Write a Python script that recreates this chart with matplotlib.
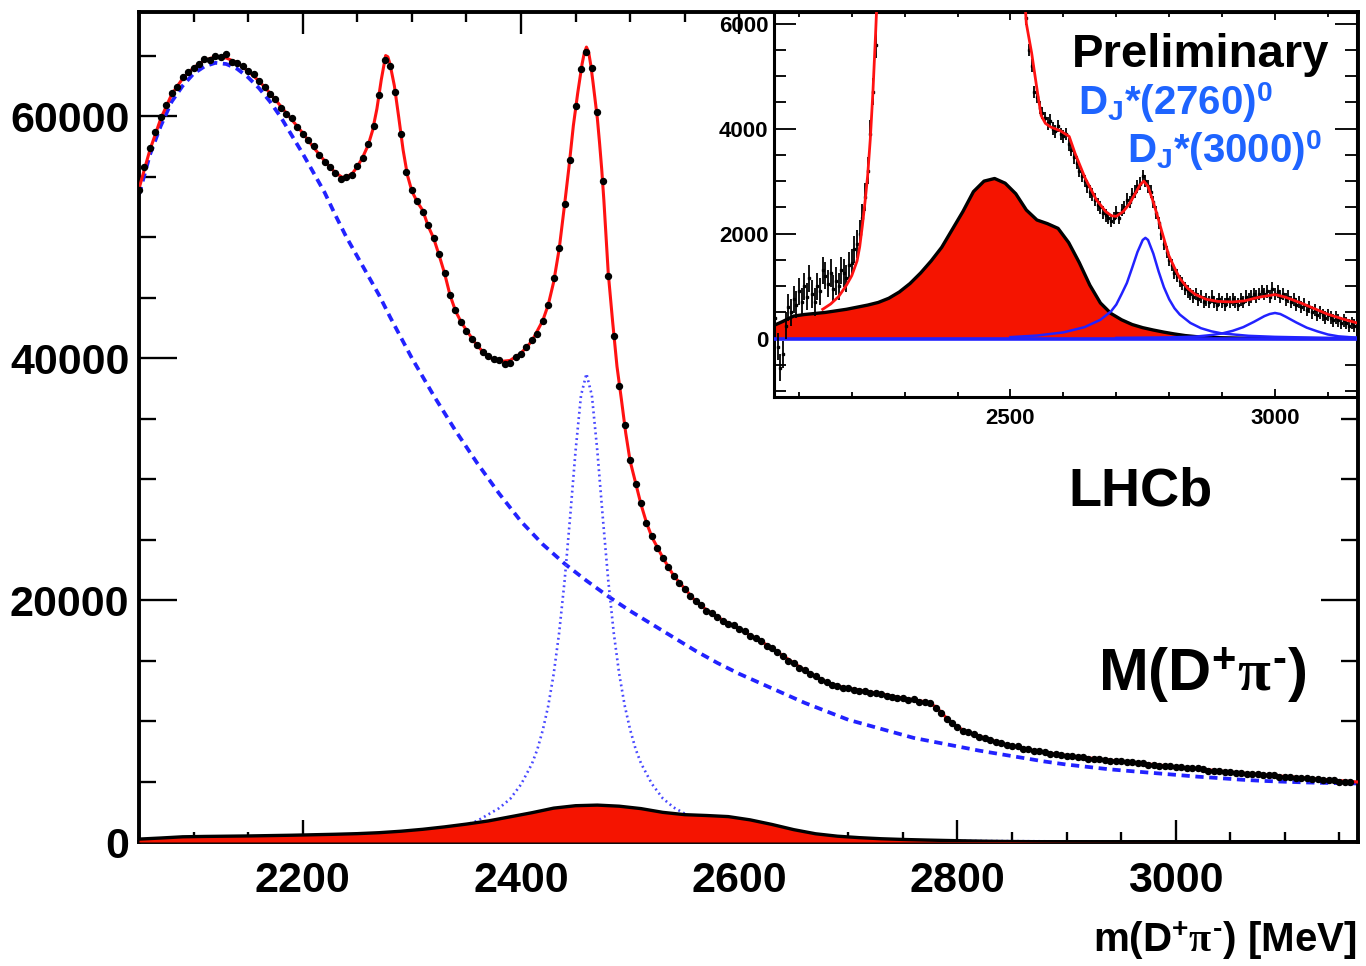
import numpy as np
import matplotlib.pyplot as plt
from matplotlib.ticker import MultipleLocator

plt.rcParams['font.family'] = ['Liberation Sans', 'DejaVu Sans']
plt.rcParams['font.weight'] = 'bold'
plt.rcParams['mathtext.fontset'] = 'custom'
plt.rcParams['mathtext.rm'] = 'Liberation Sans:bold'
plt.rcParams['mathtext.bf'] = 'Liberation Sans:bold'
plt.rcParams['mathtext.sf'] = 'Liberation Sans:bold'
plt.rcParams['mathtext.it'] = 'Liberation Serif:bold'

# ---- main plot data: m(D+pi-) in MeV, candidates per bin ----
data_m = np.arange(2050, 3161, 5)
data_n = [53900, 55800, 57400, 58700, 59900, 60900, 61900, 62400, 63200, 63600,
          64000, 64300, 64700, 64600, 65000, 64900, 65100, 64500, 64400, 64100,
          63700, 63500, 62900, 62400, 61800, 61400, 60700, 60200, 59800, 59100,
          58500, 58000, 57500, 56800, 56200, 55800, 55300, 54800, 55000, 55100,
          55900, 56500, 57700, 59200, 61700, 64600, 64100, 62000, 58500, 55400,
          53900, 53000, 52100, 51000, 49900, 48600, 47000, 45200, 44000, 43000,
          42200, 41600, 41100, 40500, 40200, 39900, 39800, 39500, 39600, 40100,
          40300, 40900, 41500, 42000, 43100, 44400, 46600, 49100, 52700, 56400,
          60800, 63900, 65300, 64000, 60300, 54600, 46800, 41800, 37700, 34500,
          31600, 29600, 28000, 26400, 25300, 24300, 23500, 22700, 22000, 21400,
          20900, 20300, 19900, 19600, 19100, 18900, 18600, 18300, 18000, 17900,
          17600, 17400, 17000, 16900, 16600, 16200, 16000, 15700, 15400, 15000,
          14800, 14400, 14200, 13900, 13700, 13400, 13200, 13000, 12900, 12700,
          12700, 12600, 12500, 12500, 12300, 12300, 12200, 12100, 12000, 11900,
          11900, 11700, 11800, 11600, 11600, 11500, 11100, 10700, 10200, 9800,
          9500, 9200, 9100, 8900, 8700, 8600, 8400, 8300, 8200, 8000,
          7900, 7900, 7700, 7700, 7500, 7500, 7400, 7300, 7300, 7200,
          7100, 7100, 7000, 7000, 6900, 6900, 6900, 6800, 6700, 6700,
          6700, 6600, 6600, 6500, 6500, 6400, 6400, 6300, 6300, 6300,
          6200, 6200, 6100, 6100, 6100, 6000, 5900, 5900, 5900, 5800,
          5800, 5700, 5700, 5600, 5600, 5600, 5500, 5500, 5500, 5400,
          5400, 5400, 5300, 5300, 5300, 5200, 5200, 5100, 5100, 5100,
          5000, 5000, 4950]

# total fit (red)
fit_m = [2050, 2060, 2070, 2080, 2090, 2100, 2110, 2120, 2130, 2140, 2150, 2160,
         2170, 2180, 2190, 2200, 2210, 2220, 2230, 2237, 2245, 2250, 2255, 2260,
         2264, 2268, 2272, 2276, 2278, 2280, 2284, 2288, 2292, 2296, 2300, 2305,
         2310, 2315, 2320, 2325, 2330, 2335, 2340, 2345, 2350, 2360, 2370, 2380,
         2390, 2400, 2410, 2420, 2425, 2430, 2435, 2440, 2444, 2448, 2452, 2456,
         2458, 2460, 2462, 2464, 2466, 2468, 2470, 2472, 2474, 2476, 2478, 2480,
         2484, 2488, 2492, 2496, 2500, 2505, 2510, 2515, 2520, 2530, 2540, 2550,
         2560, 2570, 2580, 2590, 2600, 2610, 2620, 2630, 2640, 2650, 2660, 2670,
         2680, 2690, 2700, 2710, 2720, 2730, 2740, 2750, 2760, 2770, 2780, 2790,
         2800, 2810, 2820, 2830, 2840, 2850, 2860, 2870, 2880, 2890, 2900, 2920,
         2940, 2960, 2980, 3000, 3020, 3040, 3060, 3080, 3100, 3120, 3140, 3160,
         3170]
fit_n = [54000, 57200, 59800, 61800, 63100, 64000, 64600, 64900, 64800, 64400, 63700, 62900,
         61900, 60800, 59700, 58600, 57400, 56300, 55300, 54900, 55200, 55800, 56600, 57600,
         58800, 60600, 63000, 65000, 64900, 64300, 62500, 59900, 57200, 55100, 53800, 52900,
         52200, 50900, 49900, 48500, 47000, 45200, 43900, 43000, 42300, 41000, 40100, 39700,
         39800, 40400, 41400, 43100, 44400, 46300, 49000, 52700, 55800, 59200, 61900, 64300,
         65200, 65700, 65300, 64200, 62800, 61300, 59800, 57800, 55600, 53000, 50000, 47000,
         43000, 39300, 36600, 33800, 31500, 29700, 27900, 26400, 25200, 23500, 22000, 20950,
         19900, 19200, 18600, 18100, 17600, 17100, 16600, 16000, 15400, 14800, 14200, 13700,
         13200, 12900, 12700, 12550, 12400, 12250, 12050, 11900, 11750, 11600, 11200, 10250,
         9500, 9050, 8750, 8450, 8150, 7950, 7750, 7550, 7400, 7270, 7150, 6950,
         6760, 6580, 6400, 6220, 6050, 5870, 5700, 5560, 5420, 5280, 5140, 5000,
         4940]

# combinatorial background (dashed blue)
bkg_m = [2050, 2060, 2070, 2080, 2090, 2100, 2110, 2120, 2130, 2140, 2150, 2160,
         2170, 2180, 2190, 2200, 2210, 2220, 2230, 2240, 2250, 2260, 2270, 2280,
         2290, 2300, 2320, 2340, 2360, 2380, 2400, 2420, 2440, 2460, 2480, 2500,
         2520, 2540, 2560, 2580, 2600, 2620, 2640, 2660, 2680, 2700, 2720, 2740,
         2760, 2780, 2800, 2820, 2840, 2860, 2880, 2900, 2920, 2940, 2960, 2980,
         3000, 3020, 3040, 3060, 3080, 3100, 3120, 3140, 3160, 3170]
bkg_n = [53500, 56800, 59200, 61200, 62500, 63500, 64100, 64400, 64300, 63900, 63200, 62300,
         61200, 59900, 58400, 56900, 55300, 53700, 51800, 50000, 48400, 46800, 45200, 43400,
         41700, 40000, 36900, 34000, 31300, 28800, 26500, 24600, 23000, 21600, 20300, 19100,
         18000, 16900, 15800, 14800, 13900, 13100, 12300, 11500, 10800, 10100, 9600, 9100,
         8600, 8250, 7900, 7550, 7250, 6950, 6650, 6400, 6200, 6000, 5850, 5700,
         5550, 5400, 5280, 5150, 5050, 4980, 4920, 4880, 4850, 4830]

# D2*(2460) component (dotted blue)
d2_m = [2050, 2100, 2150, 2200, 2250, 2300, 2320, 2340, 2360, 2380, 2390, 2400,
        2410, 2415, 2420, 2425, 2430, 2435, 2440, 2445, 2450, 2455, 2460, 2465,
        2470, 2475, 2480, 2485, 2490, 2495, 2500, 2505, 2510, 2520, 2530, 2540,
        2560, 2580, 2600, 2650, 2700, 2750, 2800, 2900, 3000, 3100, 3170]
d2_n = [10, 20, 40, 80, 150, 420, 700, 1100, 1750, 2800, 3550, 4750,
        6450, 7650, 9250, 11250, 13900, 17300, 21600, 26800, 32300, 36900, 38700, 36900,
        32300, 26800, 21600, 17300, 13900, 11300, 9300, 7700, 6500, 4800, 3600, 2850,
        1850, 1250, 900, 480, 260, 150, 90, 50, 30, 20, 15]

# red filled component (shared by main plot and inset)
fill_m = [2050, 2070, 2090, 2110, 2130, 2150, 2170, 2190, 2210, 2230, 2250, 2270,
          2290, 2310, 2330, 2350, 2370, 2390, 2410, 2430, 2450, 2470, 2490, 2510,
          2530, 2550, 2570, 2590, 2610, 2630, 2650, 2670, 2690, 2710, 2730, 2750,
          2770, 2790, 2810, 2830, 2850, 2870, 2890, 2950, 3050, 3170]
fill_n = [240, 330, 430, 460, 480, 500, 530, 560, 600, 640, 690, 770,
          890, 1050, 1250, 1480, 1740, 2080, 2420, 2800, 3000, 3050, 2960, 2760,
          2450, 2260, 2190, 2100, 1830, 1450, 1020, 680, 480, 360, 270, 210,
          165, 125, 90, 60, 40, 28, 20, 8, 3, 1]

# ---- inset: background-subtracted ----
in_lo_m = np.arange(2055, 2251, 5)
in_lo_n = [400, -150, -550, -300, 250, 600, 500, 750, 650, 900,
           700, 1000, 800, 1150, 850, 700, 1000, 900, 1300, 1200,
           1050, 1250, 950, 1100, 1000, 1300, 1250, 1150, 1400, 1450,
           1700, 1800, 2000, 2300, 2700, 3200, 3900, 4700, 5600, 6600]
in_hi_m = np.arange(2530, 3161, 5)
in_hi_n = [6100, 5500, 5200, 4700, 4600, 4400, 4300, 4200, 4100, 4150,
           4000, 3950, 4050, 3900, 3850, 3900, 3700, 3600, 3450, 3350,
           3200, 3100, 3000, 2900, 2800, 2750, 2650, 2550, 2500, 2400,
           2350, 2300, 2250, 2300, 2400, 2300, 2450, 2500, 2650, 2600,
           2750, 2800, 2900, 2950, 3100, 3000, 2900, 2800, 2600, 2400,
           2200, 2000, 1800, 1650, 1500, 1400, 1250, 1200, 1100, 1050,
           950, 900, 850, 800, 850, 750, 800, 700, 750, 700,
           800, 700, 650, 750, 700, 650, 750, 700, 750, 700,
           650, 750, 700, 800, 750, 800, 850, 800, 850, 900,
           850, 900, 800, 950, 850, 900, 800, 850, 750, 800,
           700, 750, 650, 700, 600, 650, 550, 600, 500, 550,
           450, 500, 450, 400, 450, 400, 350, 400, 350, 300,
           350, 300, 250, 300, 250, 300, 250]

in_fit_lo_m = [2145, 2160, 2175, 2190, 2200, 2210, 2215, 2220, 2225, 2230, 2235, 2240, 2245, 2250]
in_fit_lo_n = [560, 660, 800, 1020, 1200, 1480, 1750, 2150, 2600, 3100, 3800, 4700, 5800, 7000]
in_fit_hi_m = [2520, 2530, 2540, 2551, 2558, 2566, 2576, 2594, 2611, 2622, 2641, 2662,
               2680, 2691, 2700, 2713, 2725, 2735, 2745, 2752, 2760, 2770, 2778, 2785,
               2799, 2810, 2820, 2835, 2849, 2870, 2892, 2920, 2942, 2970, 3000, 3020,
               3049, 3075, 3100, 3130, 3155]
in_fit_hi_n = [7500, 6000, 5440, 4690, 4250, 4100, 4030, 3960, 3850, 3530, 3060, 2650,
               2420, 2340, 2330, 2420, 2570, 2750, 2930, 3000, 2900, 2600, 2330, 2080,
               1590, 1350, 1150, 960, 845, 750, 710, 700, 720, 790, 840, 790,
               680, 570, 465, 370, 300]

dj2760_m = [2500, 2550, 2600, 2640, 2670, 2690, 2700, 2710, 2720, 2730, 2740, 2750,
            2755, 2760, 2770, 2780, 2790, 2800, 2810, 2820, 2840, 2860, 2880, 2900,
            2950, 3000, 3100, 3160]
dj2760_n = [30, 60, 120, 220, 360, 520, 650, 850, 1060, 1350, 1650, 1880,
            1920, 1880, 1620, 1280, 980, 750, 580, 460, 300, 200, 140, 100,
            55, 35, 15, 10]
dj3000_m = [2700, 2800, 2850, 2880, 2900, 2920, 2940, 2960, 2980, 2990, 3000, 3010,
            3020, 3040, 3060, 3080, 3100, 3120, 3140, 3160]
dj3000_n = [15, 25, 40, 70, 100, 150, 220, 320, 430, 470, 490, 470,
            420, 310, 210, 140, 80, 45, 30, 20]

red = '#ff1212'
fill_red = '#f51400'
blue = '#2222ff'
lblue = '#4848ff'
txt_blue = '#1e64ff'

W, H = 1366, 966
fig = plt.figure(figsize=(W / 100, H / 100), dpi=100)


def fx(px):
    return px / W


def fy(py):
    return 1 - py / H


def style_axes(a, lw, xl, yl):
    for s in a.spines.values():
        s.set_linewidth(lw)
    a.tick_params(which='both', direction='in', top=True, right=True, width=lw * 0.6)
    a.tick_params(axis='x', which='major', length=xl[0])
    a.tick_params(axis='x', which='minor', length=xl[1])
    a.tick_params(axis='y', which='major', length=yl[0])
    a.tick_params(axis='y', which='minor', length=yl[1])


# main axes
ax = fig.add_axes([fx(139), fy(842), fx(1358 - 139), (842 - 12) / H])
ax.plot(bkg_m, bkg_n, color=blue, lw=2.7, ls=(0, (2.2, 1.5)), zorder=2)
ax.plot(d2_m, d2_n, color=lblue, lw=1.9, ls=(0, (0.7, 1.3)), zorder=2)
ax.fill_between(fill_m, fill_n, 0, color=fill_red, lw=0, zorder=3)
ax.plot(fill_m, fill_n, color='k', lw=2.4, zorder=3)
ax.plot(fit_m, fit_n, color=red, lw=2.2, zorder=4)
ax.plot(data_m, data_n, 'o', color='k', ms=4.3, zorder=5)

ax.set_xlim(2050, 3167)
ax.set_ylim(0, 68600)
ax.xaxis.set_major_locator(MultipleLocator(200))
ax.xaxis.set_minor_locator(MultipleLocator(50))
ax.yaxis.set_major_locator(MultipleLocator(20000))
ax.yaxis.set_minor_locator(MultipleLocator(5000))
style_axes(ax, 2.8, (16, 7), (27, 12))
ax.tick_params(axis='x', labelsize=31, pad=14)
ax.tick_params(axis='y', labelsize=31, pad=7)
ax.set_xticks([2200, 2400, 2600, 2800, 3000])

# inset
ai = fig.add_axes([fx(774), fy(397), fx(1357 - 774), (397 - 12) / H])
ai.set_facecolor('white')
ai.fill_between(fill_m, fill_n, 0, color=fill_red, lw=0, zorder=2)
ai.plot(fill_m, fill_n, color='k', lw=2.4, zorder=3)
ai.axhline(0, color=blue, lw=2.6, zorder=4)
ai.plot(dj2760_m, dj2760_n, color=blue, lw=1.8, zorder=4)
ai.plot(dj3000_m, dj3000_n, color=blue, lw=1.8, zorder=4)
ai.errorbar(in_lo_m, in_lo_n, yerr=260, fmt='s', ms=2, color='k', elinewidth=1.3, capsize=0, zorder=5)
ai.errorbar(in_hi_m, in_hi_n, yerr=120, fmt='s', ms=2, color='k', elinewidth=1.3, capsize=0, zorder=5)
ai.plot(in_fit_lo_m, in_fit_lo_n, color=red, lw=2.0, zorder=6)
ai.plot(in_fit_hi_m, in_fit_hi_n, color=red, lw=2.0, zorder=6)

ai.set_xlim(2053, 3155)
ai.set_ylim(-1110, 6220)
ai.xaxis.set_major_locator(MultipleLocator(500))
ai.xaxis.set_minor_locator(MultipleLocator(100))
ai.yaxis.set_major_locator(MultipleLocator(2000))
ai.yaxis.set_minor_locator(MultipleLocator(500))
style_axes(ai, 2.2, (6, 3.5), (16, 8.5))
ai.tick_params(axis='both', labelsize=16)
ai.tick_params(axis='x', pad=8)
ai.tick_params(axis='y', pad=4)

# labels
fig.text(fx(1072), fy(67), 'Preliminary', fontsize=34, fontweight='bold', color='k')
fig.text(fx(1078), fy(115), r'D$_{\rm J}$*(2760)$^{0}$', fontsize=29, fontweight='bold', color=txt_blue)
fig.text(fx(1127), fy(163), r'D$_{\rm J}$*(3000)$^{0}$', fontsize=29, fontweight='bold', color=txt_blue)
fig.text(fx(1068), fy(505), 'LHCb', fontsize=39, fontweight='bold', color='k')
fig.text(fx(1098), fy(692), r'M(D$^{+}\mathit{\pi}^{\text{-}}$)', fontsize=43, fontweight='bold', color='k')
fig.text(fx(1357), fy(952), r'm(D$^{+}\mathit{\pi}^{\text{-}}$) [MeV]', fontsize=29, fontweight='bold',
         color='k', ha='right')

fig.savefig('out.png', dpi=100)
